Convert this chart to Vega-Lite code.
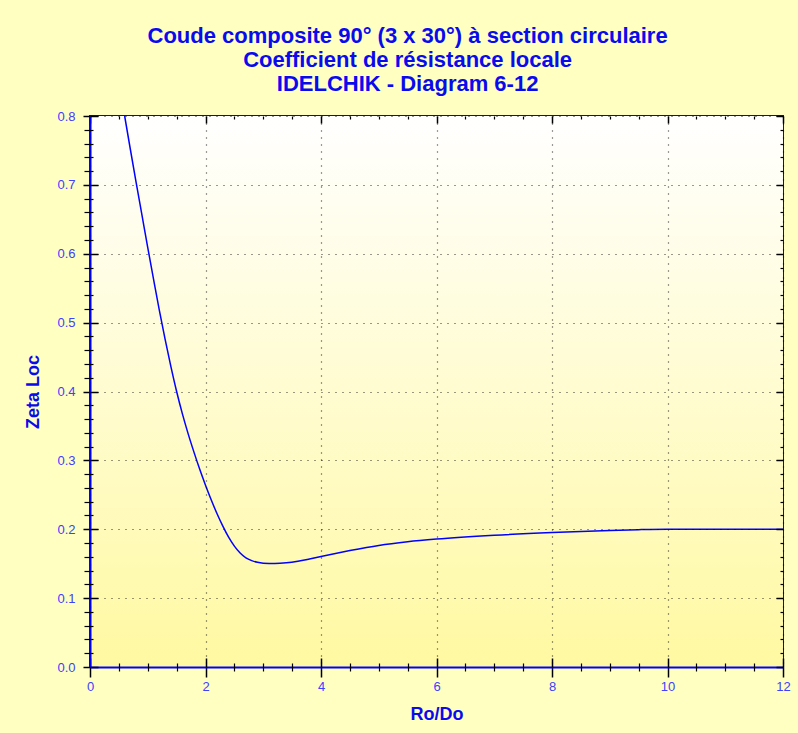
{
  "$schema": "https://vega.github.io/schema/vega-lite/v6.json",
  "width": 693,
  "height": 551,
  "autosize": {"type": "none"},
  "padding": {"left": 90, "top": 116, "right": 15, "bottom": 66},
  "background": "#FFFFC2",
  "view": {"stroke": "#0000FF", "strokeWidth": 2},
  "title": {
    "text": ["Coude composite 90° (3 x 30°) à section circulaire", "Coefficient de résistance locale", "IDELCHIK - Diagram 6-12"],
    "anchor": "middle",
    "frame": "bounds",
    "font": "Liberation Sans",
    "fontSize": 22,
    "fontWeight": "bold",
    "color": "#0A0AEE",
    "lineHeight": 24,
    "offset": 14
  },
  "config": {
    "axis": {
      "labelFont": "Liberation Sans",
      "labelFontSize": 13,
      "labelColor": "#4040FF",
      "labelFlush": false,
      "labelOverlap": false,
      "titleFont": "Liberation Sans",
      "titleFontSize": 18,
      "titleFontWeight": "bold",
      "titleColor": "#0A0AEE",
      "tickColor": "#000000"
    }
  },
  "data": {
    "values": [
      {"ro": 0.6, "zeta": 0.8},
      {"ro": 0.7, "zeta": 0.751},
      {"ro": 0.8, "zeta": 0.703},
      {"ro": 0.9, "zeta": 0.656},
      {"ro": 1.0, "zeta": 0.609},
      {"ro": 1.1, "zeta": 0.563},
      {"ro": 1.2, "zeta": 0.518},
      {"ro": 1.3, "zeta": 0.476},
      {"ro": 1.4, "zeta": 0.4365},
      {"ro": 1.5, "zeta": 0.4},
      {"ro": 1.6, "zeta": 0.3675},
      {"ro": 1.7, "zeta": 0.3385},
      {"ro": 1.8, "zeta": 0.312},
      {"ro": 1.9, "zeta": 0.287},
      {"ro": 2.0, "zeta": 0.264},
      {"ro": 2.1, "zeta": 0.2425},
      {"ro": 2.2, "zeta": 0.2225},
      {"ro": 2.3, "zeta": 0.2045},
      {"ro": 2.4, "zeta": 0.1885},
      {"ro": 2.5, "zeta": 0.1755},
      {"ro": 2.6, "zeta": 0.1655},
      {"ro": 2.7, "zeta": 0.1585},
      {"ro": 2.8, "zeta": 0.1545},
      {"ro": 2.9, "zeta": 0.152},
      {"ro": 3.0, "zeta": 0.1508},
      {"ro": 3.2, "zeta": 0.1502},
      {"ro": 3.4, "zeta": 0.1512},
      {"ro": 3.6, "zeta": 0.1535},
      {"ro": 3.8, "zeta": 0.1568},
      {"ro": 4.0, "zeta": 0.1604},
      {"ro": 4.25, "zeta": 0.1648},
      {"ro": 4.5, "zeta": 0.169},
      {"ro": 5.0, "zeta": 0.1765},
      {"ro": 5.5, "zeta": 0.1818},
      {"ro": 6.0, "zeta": 0.1857},
      {"ro": 7.0, "zeta": 0.1913},
      {"ro": 8.0, "zeta": 0.1953},
      {"ro": 9.0, "zeta": 0.1983},
      {"ro": 9.5, "zeta": 0.1994},
      {"ro": 10.0, "zeta": 0.2},
      {"ro": 11.0, "zeta": 0.2},
      {"ro": 12.0, "zeta": 0.2}
    ]
  },
  "layer": [
    {
      "data": {"values": [{}]},
      "mark": {
        "type": "rect",
        "color": {
          "gradient": "linear",
          "x1": 0, "y1": 0, "x2": 0, "y2": 1,
          "stops": [
            {"offset": 0, "color": "#FFFFFF"},
            {"offset": 1, "color": "#FFF9A2"}
          ]
        }
      },
      "encoding": {
        "x": {
          "datum": 0, "type": "quantitative",
          "scale": {"domain": [0, 12], "nice": false, "zero": false},
          "axis": {
            "orient": "bottom",
            "zindex": 1,
            "values": [0, 2, 4, 6, 8, 10, 12],
            "format": "d",
            "tickSize": 10,
            "tickWidth": 1.5,
            "labelPadding": 3,
            "domain": true,
            "domainColor": "#0000FF",
            "domainWidth": 2,
            "grid": true,
            "gridColor": "#000000",
            "gridDash": [1, 6],
            "gridWidth": 1.2,
            "gridOpacity": 0.8,
            "title": "Ro/Do",
            "titlePadding": 12
          }
        },
        "x2": {"datum": 12},
        "y": {
          "datum": 0, "type": "quantitative",
          "scale": {"domain": [0, 0.8], "nice": false, "zero": false},
          "axis": {
            "orient": "left",
            "zindex": 1,
            "values": [0, 0.1, 0.2, 0.3, 0.4, 0.5, 0.6, 0.7, 0.8],
            "format": ".1f",
            "tickSize": 7,
            "tickWidth": 1.5,
            "labelPadding": 8,
            "domain": true,
            "domainColor": "#0000FF",
            "domainWidth": 2,
            "grid": true,
            "gridColor": "#000000",
            "gridDash": [1, 6],
            "gridWidth": 1.2,
            "gridOpacity": 0.8,
            "title": "Zeta Loc",
            "titlePadding": 14
          }
        },
        "y2": {"datum": 0.8}
      }
    },
    {
      "mark": {"type": "line", "color": "#0000FF", "strokeWidth": 1.5, "interpolate": "monotone"},
      "encoding": {
        "x": {
          "field": "ro", "type": "quantitative",
          "axis": {"orient": "bottom", "zindex": 1, "values": [0, 2, 4, 6, 8, 10, 12], "offset": -9, "tickSize": 9, "tickWidth": 1.5, "labels": false, "domain": false, "grid": false, "title": null}
        },
        "y": {
          "field": "zeta", "type": "quantitative",
          "axis": {"orient": "left", "zindex": 1, "values": [0, 0.1, 0.2, 0.3, 0.4, 0.5, 0.6, 0.7, 0.8], "offset": -8, "tickSize": 8, "tickWidth": 1.5, "labels": false, "domain": false, "grid": false, "title": null}
        }
      }
    },
    {
      "data": {"values": [{}]},
      "mark": {"type": "rule", "opacity": 0},
      "encoding": {
        "x": {
          "datum": 0, "type": "quantitative",
          "axis": {"orient": "bottom", "zindex": 1, "values": [0.5, 1, 1.5, 2.5, 3, 3.5, 4.5, 5, 5.5, 6.5, 7, 7.5, 8.5, 9, 9.5, 10.5, 11, 11.5], "offset": -4, "tickSize": 8, "tickWidth": 1.2, "labels": false, "domain": false, "grid": false, "title": null}
        },
        "y": {
          "datum": 0, "type": "quantitative",
          "axis": {"orient": "left", "zindex": 1, "values": [0.02, 0.04, 0.06, 0.08, 0.12, 0.14, 0.16, 0.18, 0.22, 0.24, 0.26, 0.28, 0.32, 0.34, 0.36, 0.38, 0.42, 0.44, 0.46, 0.48, 0.52, 0.54, 0.56, 0.58, 0.62, 0.64, 0.66, 0.68, 0.72, 0.74, 0.76, 0.78], "offset": -3, "tickSize": 9, "tickWidth": 1.2, "labels": false, "domain": false, "grid": false, "title": null}
        }
      }
    },
    {
      "data": {"values": [{}]},
      "mark": {"type": "rule", "opacity": 0},
      "encoding": {
        "x": {
          "datum": 0, "type": "quantitative",
          "axis": {"orient": "top", "zindex": 1, "values": [0, 2, 4, 6, 8, 10, 12], "offset": -7, "tickSize": 7, "tickWidth": 1.5, "labels": false, "domain": false, "grid": false, "title": null}
        },
        "y": {
          "datum": 0, "type": "quantitative",
          "axis": {"orient": "right", "zindex": 1, "values": [0, 0.1, 0.2, 0.3, 0.4, 0.5, 0.6, 0.7, 0.8], "offset": -7, "tickSize": 7, "tickWidth": 1.5, "labels": false, "domain": false, "grid": false, "title": null}
        }
      }
    },
    {
      "data": {"values": [{}]},
      "mark": {"type": "rule", "opacity": 0},
      "encoding": {
        "x": {
          "datum": 0, "type": "quantitative",
          "axis": {"orient": "top", "zindex": 1, "values": [0.5, 1, 1.5, 2.5, 3, 3.5, 4.5, 5, 5.5, 6.5, 7, 7.5, 8.5, 9, 9.5, 10.5, 11, 11.5], "offset": -3, "tickSize": 3, "tickWidth": 1.2, "labels": false, "domain": false, "grid": false, "title": null}
        },
        "y": {
          "datum": 0, "type": "quantitative",
          "axis": {"orient": "right", "zindex": 1, "values": [0.02, 0.04, 0.06, 0.08, 0.12, 0.14, 0.16, 0.18, 0.22, 0.24, 0.26, 0.28, 0.32, 0.34, 0.36, 0.38, 0.42, 0.44, 0.46, 0.48, 0.52, 0.54, 0.56, 0.58, 0.62, 0.64, 0.66, 0.68, 0.72, 0.74, 0.76, 0.78], "offset": -3, "tickSize": 3, "tickWidth": 1.2, "labels": false, "domain": false, "grid": false, "title": null}
        }
      }
    }
  ],
  "resolve": {"axis": {"x": "independent", "y": "independent"}}
}
